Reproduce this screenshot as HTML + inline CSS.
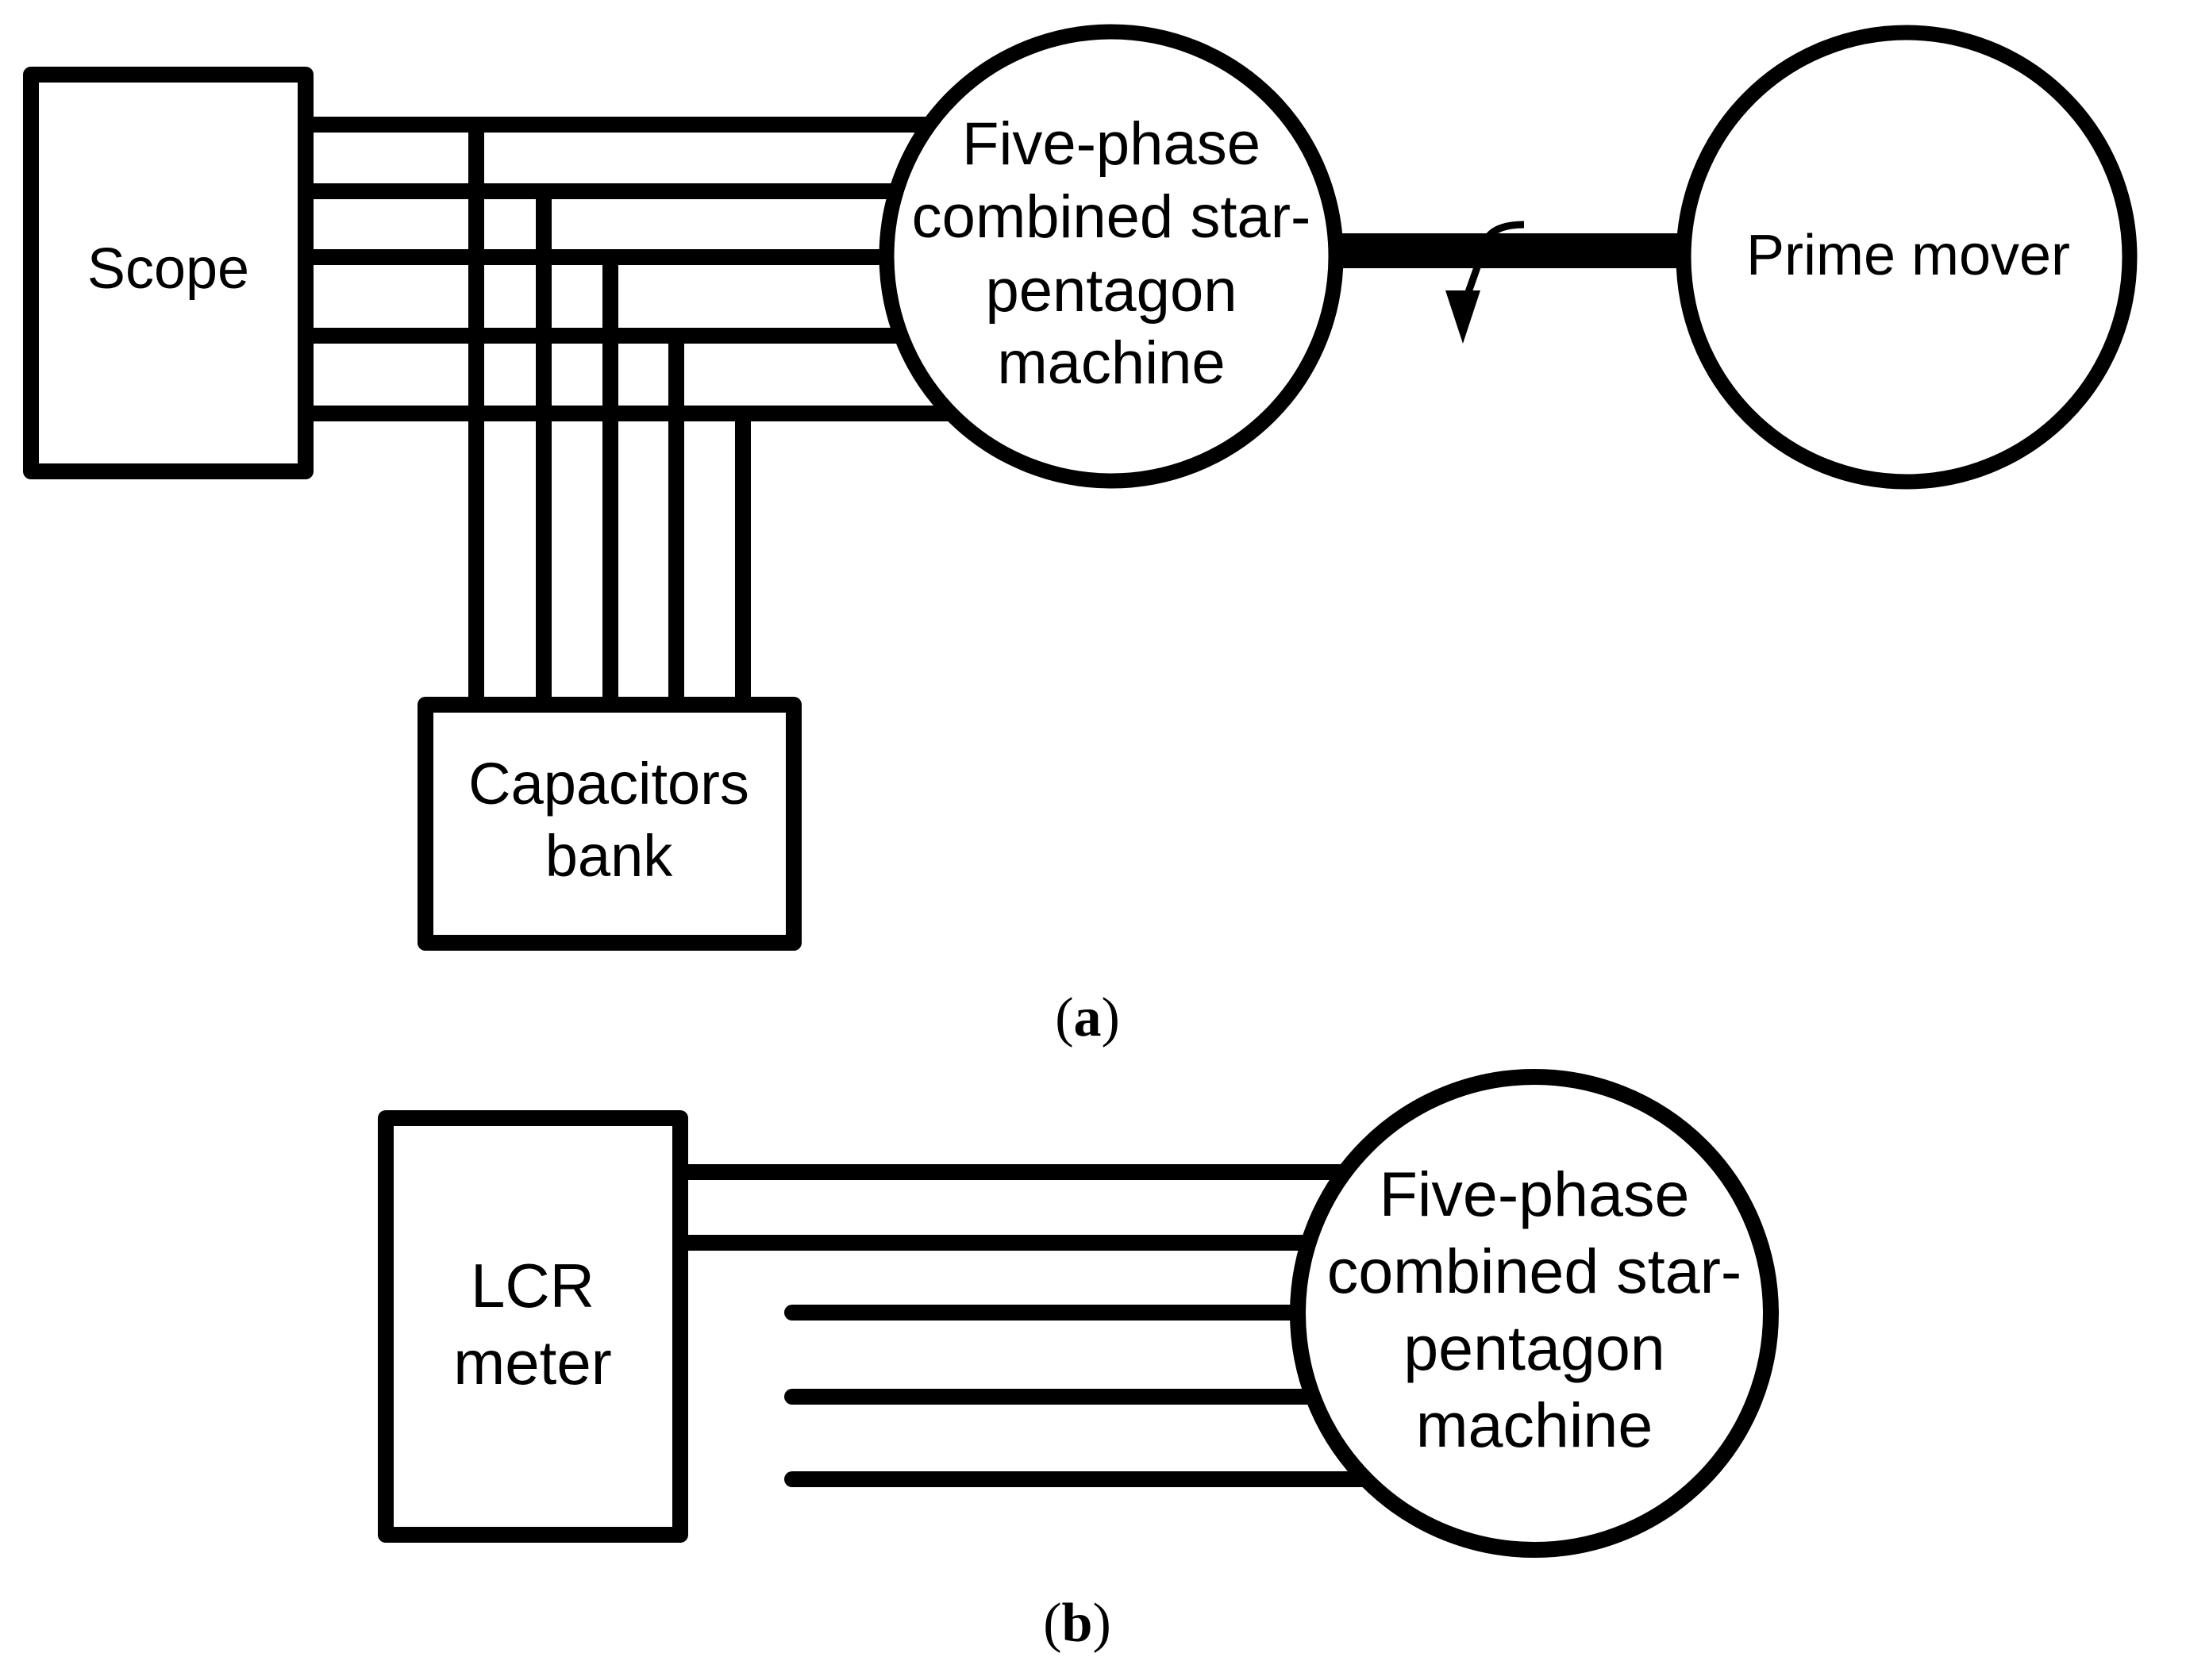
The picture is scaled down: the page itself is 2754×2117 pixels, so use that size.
<!DOCTYPE html>
<html><head><meta charset="utf-8"><style>
html,body{margin:0;padding:0;background:#fff;}
svg{display:block;}
text{font-family:"Liberation Sans",Arial,sans-serif;fill:#000;}
.s{font-family:"Liberation Serif",serif;}
</style></head><body>
<svg width="2754" height="2117" viewBox="0 0 2754 2117" xmlns="http://www.w3.org/2000/svg">
<g stroke="#000" stroke-width="20" fill="none">
  <line x1="385" y1="157" x2="1300" y2="157"/>
  <line x1="385" y1="241" x2="1300" y2="241"/>
  <line x1="385" y1="324" x2="1300" y2="324"/>
  <line x1="385" y1="423" x2="1300" y2="423"/>
  <line x1="385" y1="521" x2="1300" y2="521"/>
  <line x1="600" y1="157" x2="600" y2="886"/>
  <line x1="685" y1="241" x2="685" y2="886"/>
  <line x1="769" y1="324" x2="769" y2="886"/>
  <line x1="852" y1="423" x2="852" y2="886"/>
  <line x1="936" y1="521" x2="936" y2="886"/>
  <rect x="39" y="94" width="346" height="500" fill="#fff" stroke-linejoin="round"/>
  <rect x="536" y="888" width="464" height="300" fill="#fff" stroke-linejoin="round"/>
  <rect x="1680" y="294" width="460" height="44" fill="#000" stroke="none"/>
  <circle cx="1400" cy="323" r="283" fill="#fff" stroke-width="19"/>
  <ellipse cx="2402" cy="324" rx="281" ry="283" fill="#fff" stroke-width="19"/>
  <path d="M1920 283 C1895 283 1880 290 1874 300 L1850 368" stroke-width="9"/>
  <polygon points="1821,366 1865,366 1843,433" fill="#000" stroke="none"/>
  <line x1="866" y1="1477" x2="1900" y2="1477"/>
  <line x1="866" y1="1566" x2="1900" y2="1566"/>
  <line x1="998" y1="1654" x2="1900" y2="1654" stroke-linecap="round"/>
  <line x1="998" y1="1760" x2="1900" y2="1760" stroke-linecap="round"/>
  <line x1="998" y1="1864" x2="1900" y2="1864" stroke-linecap="round"/>
  <rect x="486" y="1409" width="371" height="525" fill="#fff" stroke-linejoin="round"/>
  <circle cx="1933" cy="1655" r="298" fill="#fff"/>
</g>
<g text-anchor="middle" font-size="76">
  <text x="212" y="363" font-size="72">Scope</text>
  <text x="767" y="1013" font-size="74">Capacitors</text>
  <text x="767" y="1104" font-size="74">bank</text>
  <text x="1400" y="207">Five-phase</text>
  <text x="1400" y="299">combined star-</text>
  <text x="1400" y="392">pentagon</text>
  <text x="1400" y="483">machine</text>
  <text x="2404" y="346" font-size="72">Prime mover</text>
  <text x="671" y="1647" font-size="78">LCR</text>
  <text x="671" y="1744" font-size="78">meter</text>
  <text x="1933" y="1532" font-size="79">Five-phase</text>
  <text x="1933" y="1629" font-size="79">combined star-</text>
  <text x="1933" y="1726" font-size="79">pentagon</text>
  <text x="1933" y="1823" font-size="79">machine</text>
  <text class="s" x="1370" y="1305" font-size="70">(<tspan font-weight="bold">a</tspan>)</text>
  <text class="s" x="1357" y="2068" font-size="70">(<tspan font-weight="bold">b</tspan>)</text>
</g>
</svg>
</body></html>
